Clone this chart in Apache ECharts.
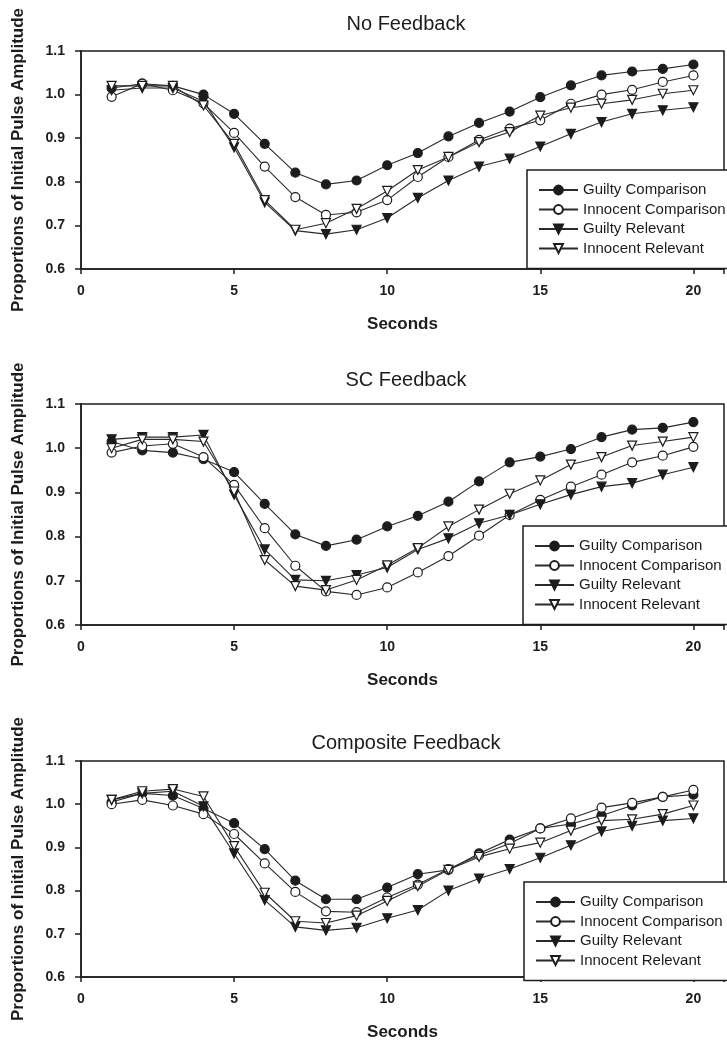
<!DOCTYPE html>
<html>
<head>
<meta charset="utf-8">
<script src="https://cdn.jsdelivr.net/npm/echarts@6/dist/echarts.min.js"></script>
<style>
html,body{margin:0;padding:0;background:#fff;}
#chart{width:727px;height:1042px;}
</style>
</head>
<body>
<div id="chart"></div>
<script>
const seconds = [1,2,3,4,5,6,7,8,9,10,11,12,13,14,15,16,17,18,19,20];
const seriesNames = ['Guilty Comparison','Innocent Comparison','Guilty Relevant','Innocent Relevant'];
const panelTitles = ['No Feedback','SC Feedback','Composite Feedback'];
const yTicks = [0.6,0.7,0.8,0.9,1.0,1.1];
const xTicks = [0,5,10,15,20];

// No Feedback
const noGuiltyComp    = [1.015,1.025,1.02,1.00,0.956,0.887,0.821,0.794,0.803,0.838,0.866,0.904,0.935,0.961,0.994,1.021,1.044,1.053,1.059,1.069];
const noInnocentComp  = [0.995,1.025,1.01,0.98,0.912,0.835,0.765,0.724,0.730,0.758,0.811,0.857,0.896,0.922,0.941,0.979,1.000,1.011,1.029,1.044];
const noGuiltyRel     = [1.01,1.015,1.015,0.985,0.879,0.753,0.688,0.680,0.690,0.717,0.763,0.803,0.835,0.853,0.881,0.910,0.937,0.956,0.964,0.971];
const noInnocentRel   = [1.02,1.02,1.02,0.975,0.887,0.758,0.690,0.705,0.738,0.779,0.827,0.857,0.891,0.914,0.952,0.970,0.979,0.988,1.002,1.010];
// SC Feedback
const scGuiltyComp    = [1.015,0.995,0.99,0.975,0.946,0.874,0.805,0.779,0.793,0.823,0.847,0.879,0.925,0.968,0.981,0.998,1.025,1.042,1.046,1.059];
const scInnocentComp  = [0.99,1.005,1.01,0.98,0.917,0.819,0.734,0.676,0.668,0.685,0.719,0.756,0.802,0.849,0.883,0.913,0.940,0.968,0.983,1.003];
const scGuiltyRel     = [1.02,1.025,1.025,1.03,0.895,0.771,0.702,0.700,0.713,0.730,0.771,0.796,0.830,0.849,0.873,0.895,0.913,0.921,0.940,0.957];
const scInnocentRel   = [1.0,1.02,1.02,1.015,0.902,0.747,0.688,0.679,0.702,0.735,0.774,0.823,0.861,0.897,0.927,0.963,0.980,1.006,1.015,1.025];
// Composite Feedback
const coGuiltyComp    = [1.005,1.025,1.02,0.99,0.956,0.896,0.823,0.780,0.780,0.807,0.838,0.848,0.886,0.918,0.944,0.954,0.974,0.997,1.017,1.022];
const coInnocentComp  = [1.0,1.01,0.997,0.977,0.931,0.863,0.797,0.752,0.750,0.784,0.814,0.850,0.882,0.909,0.944,0.967,0.992,1.003,1.017,1.033];
const coGuiltyRel     = [1.01,1.025,1.03,0.995,0.886,0.778,0.716,0.708,0.714,0.736,0.755,0.800,0.828,0.850,0.876,0.905,0.937,0.950,0.962,0.967];
const coInnocentRel   = [1.01,1.03,1.035,1.018,0.903,0.795,0.729,0.725,0.742,0.776,0.810,0.848,0.878,0.897,0.911,0.939,0.962,0.965,0.977,0.997];

const panels = [
  [noGuiltyComp, noInnocentComp, noGuiltyRel, noInnocentRel],
  [scGuiltyComp, scInnocentComp, scGuiltyRel, scInnocentRel],
  [coGuiltyComp, coInnocentComp, coGuiltyRel, coInnocentRel]
];

const FONT = 'Liberation Sans, Arial, sans-serif';
const INK = '#1c1c1c';
const gridTops = [51, 404, 761];
const gridHeights = [218, 221, 220];
const titleTops = [14, 370, 733];
const legendTops = [170, 526, 882];
const legendLefts = [527, 523, 524];

const downTri = 'path://M0,0L10,0L5,9Z';
const markerStyles = [
  {symbol:'circle', fill:INK},
  {symbol:'circle', fill:'#ffffff'},
  {symbol:downTri, fill:INK},
  {symbol:downTri, fill:'#ffffff'}
];

const option = {
  backgroundColor:'#ffffff',
  animation:false,
  title:[], grid:[], xAxis:[], yAxis:[], legend:[], series:[]
};

panels.forEach((panel, p) => {
  option.title.push({
    text: panelTitles[p], left: 406, top: titleTops[p], textAlign:'center', padding:0,
    textStyle:{fontFamily:FONT, fontSize:20, fontWeight:'normal', color:INK}
  });
  option.grid.push({
    left:81, right:-10, top:gridTops[p], height:gridHeights[p],
    show:true, borderColor:INK, borderWidth:1.5, backgroundColor:'transparent'
  });
  option.xAxis.push({
    type:'value', gridIndex:p, min:xTicks[0], max:21, interval:5,
    name:'Seconds', nameLocation:'middle', nameGap:47,
    nameTextStyle:{fontFamily:FONT, fontSize:17, fontWeight:'bold', color:INK},
    axisLine:{show:true, onZero:false, lineStyle:{color:INK, width:1.5}},
    axisTick:{show:true, inside:false, length:5, lineStyle:{color:INK, width:1.5}},
    axisLabel:{margin:15, fontFamily:FONT, fontSize:14, fontWeight:'bold', color:INK,
      formatter: v => (xTicks.indexOf(v) >= 0 ? String(v) : '')},
    splitLine:{show:false}
  });
  option.yAxis.push({
    type:'value', gridIndex:p, min:yTicks[0], max:yTicks[yTicks.length-1], interval:0.1,
    name:'Proportions of Initial Pulse Amplitude', nameLocation:'middle', nameGap:54, nameRotate:90,
    nameTextStyle:{fontFamily:FONT, fontSize:17, fontWeight:'bold', color:INK},
    axisLine:{show:true, onZero:false, lineStyle:{color:INK, width:1.5}},
    axisTick:{show:true, inside:false, length:6, lineStyle:{color:INK, width:1.5}},
    axisLabel:{margin:16, fontFamily:FONT, fontSize:14, fontWeight:'bold', color:INK,
      formatter: v => v.toFixed(1)},
    splitLine:{show:false}
  });
  option.legend.push({
    data: seriesNames, orient:'vertical', left:legendLefts[p], top:legendTops[p],
    padding:[12, 60, 12, 11], itemWidth:39, itemHeight:11, itemGap:3.5,
    selectedMode:false, backgroundColor:'#ffffff', borderColor:INK, borderWidth:1.5, borderRadius:0,
    textStyle:{fontFamily:FONT, fontSize:15, lineHeight:16, color:INK}
  });
  panel.forEach((vals, s) => {
    const m = markerStyles[s];
    option.series.push({
      name: seriesNames[s], type:'line', xAxisIndex:p, yAxisIndex:p,
      data: seconds.map((x, i) => [x, vals[i]]),
      symbol: m.symbol, symbolSize: 9, showAllSymbol:true,
      lineStyle:{color:'#2a2a2a', width:1.1},
      itemStyle:{color:m.fill, borderColor:INK, borderWidth:1.2},
      emphasis:{disabled:true}, z: 2 + s
    });
  });
});

const chart = echarts.init(document.getElementById('chart'), null, {renderer:'canvas'});
chart.setOption(option);
</script>
</body>
</html>
